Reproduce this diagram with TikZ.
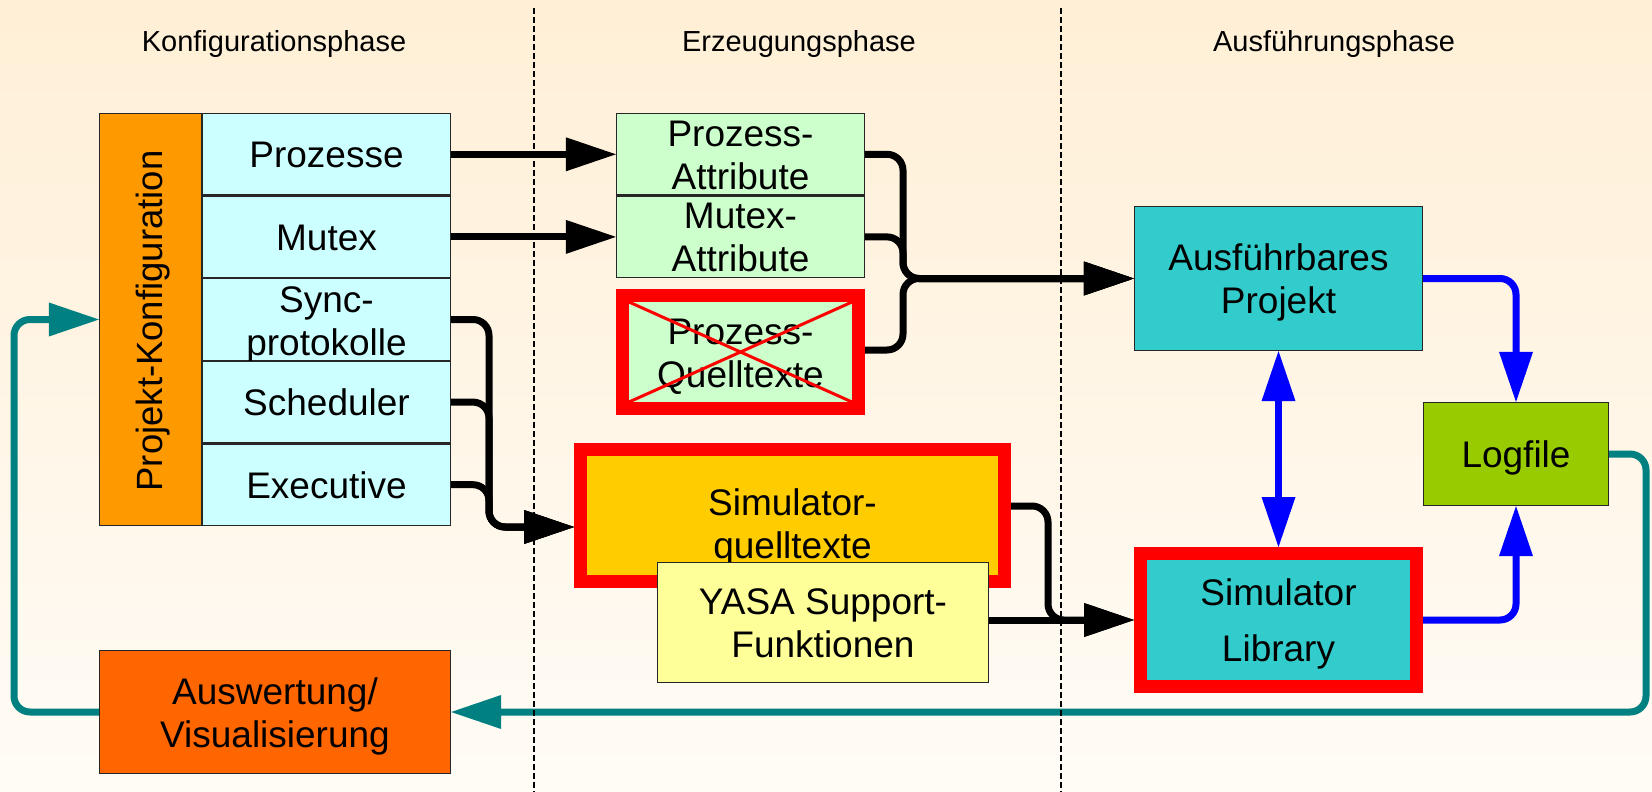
\documentclass[tikz,border=0pt]{standalone}
\usepackage{fontspec}
\setmainfont{Liberation Sans}
\usetikzlibrary{arrows.meta,calc}

\definecolor{bgtop}{RGB}{255,239,214}
\definecolor{bgbot}{RGB}{255,252,246}
\definecolor{cellcyan}{HTML}{CCFFFF}
\definecolor{barorange}{HTML}{FF9900}
\definecolor{attrgreen}{HTML}{CCFFCC}
\definecolor{exeteal}{HTML}{33CCCC}
\definecolor{loggreen}{HTML}{99CC00}
\definecolor{evalorange}{HTML}{FF6600}
\definecolor{srcyellow}{HTML}{FFCC00}
\definecolor{supyellow}{HTML}{FFFF99}
\definecolor{markred}{HTML}{FF0000}
\definecolor{flowblue}{HTML}{0000FF}
\definecolor{loopteal}{HTML}{008080}

\begin{document}
\begin{tikzpicture}[x=1pt,y=-1pt,
  % the text box of a multi-line node has its baseline at the last line,
  % so text height = twice the offset of that baseline below the centre
  boxtext/.style={inner sep=0pt, align=center,
    font=\fontsize{37}{43}\selectfont, text height=27pt, text depth=0pt},
  twolines/.style={text height=70pt, text depth=0pt},
  box/.style={boxtext, draw=black!85, line width=1.2pt},
  redbox/.style={boxtext, draw=markred, line width=13pt},
  cell/.style={box, fill=cellcyan, minimum width=248pt, minimum height=81.4pt},
  attr/.style={box, twolines, fill=attrgreen, minimum width=248pt, minimum height=81.4pt},
  phase/.style={font=\fontsize{29}{34}\selectfont, anchor=base},
  conn/.style={line width=7pt, rounded corners=16pt},
  arrowend/.style={-{Triangle[length=50pt,width=34pt,line width=0pt]}},
  arrowboth/.style={{Triangle[length=50pt,width=34pt,line width=0pt]}-{Triangle[length=50pt,width=34pt,line width=0pt]}},
  divider/.style={line width=1.2pt, dash pattern=on 6pt off 3pt}
]
% background
\shade[top color=bgtop, bottom color=bgbot] (0,0) rectangle (1652,792);
\useasboundingbox (0,0) rectangle (1652,792);

% phase titles
\node[phase] (ph1) at (274,52) {Konfigurationsphase};
\node[phase] (ph2) at (799,52) {Erzeugungsphase};
\node[phase] (ph3) at (1334,52) {Ausführungsphase};

% project configuration column
\node[box, fill=barorange, minimum width=102pt, minimum height=412pt] (proj) at (150.5,319.5) {};
\node[rotate=90, anchor=base, font=\fontsize{36.5}{40}\selectfont] (projlabel) at (162,321) {Projekt-Konfiguration};
\node[cell] (proz)  at (326.5,154.3) {Prozesse};
\node[cell] (mutex) at (326.5,236.9) {Mutex};
\node[cell, text height=71pt] (sync)  at (326.5,319.5) {Sync-\\protokolle};
\node[cell] (sched) at (326.5,402.1) {Scheduler};
\node[cell] (exec)  at (326.5,484.7) {Executive};

% evaluation
\node[box, twolines, fill=evalorange, minimum width=351pt, minimum height=123pt] (ausw) at (275,712) {Auswertung/\\Visualisierung};

% generated artefacts
\node[attr] (pattr) at (740.5,154.3) {Prozess-\\Attribute};
\node[attr] (mattr) at (740.5,236.9) {Mutex-\\Attribute};
\node[redbox, twolines, fill=attrgreen, minimum width=236pt, minimum height=113pt] (qt) at (740.5,352) {Prozess-\\Quelltexte};
\draw[markred, line width=3pt]
  ($(qt.north west)+(13,13)$) -- ($(qt.south east)+(-13,-13)$)
  ($(qt.south west)+(13,-13)$) -- ($(qt.north east)+(-13,13)$);

\node[redbox, fill=srcyellow, minimum width=424pt, minimum height=132pt, text height=86pt] (simq) at (792.5,515.5) {Simulator-\\quelltexte};
\node[box, twolines, fill=supyellow, minimum width=331pt, minimum height=120pt] (yasa) at (823,622.5) {YASA Support-\\Funktionen};

% execution phase
\node[box, twolines, fill=exeteal, minimum width=288pt, minimum height=144pt] (ausf) at (1278.5,278.5) {Ausführbares\\Projekt};
\node[redbox, fill=exeteal, minimum width=276pt, minimum height=133pt, text height=83pt] (lib) at (1278.5,620) {Simulator\\[13pt]Library};
\node[box, fill=loggreen, minimum width=185pt, minimum height=103pt] (log) at (1516,454) {Logfile};

% configuration -> attributes
\draw[conn, arrowend] (proz.east) -- (pattr.west);
\draw[conn, arrowend] (mutex.east) -- (mattr.west);

% sync / scheduler / executive -> simulator sources
\coordinate (sx) at (489,0);
\coordinate (sin) at ($(simq.west)+(0,11.5)$);
\coordinate (sc) at (sin -| sx);
\draw[conn, arrowend] (sync.east) -| (sc) -- (sin);
\draw[conn, arrowend] (sched.east) -| (sc) -- (sin);
\draw[conn, arrowend] (exec.east) -| (sc) -- (sin);

% attributes and sources -> executable project
\coordinate (ax) at (903,0);
\coordinate (ac) at (ausf.west -| ax);
\draw[conn, arrowend] (pattr.east) -| (ac) -- (ausf.west);
\draw[conn, arrowend] (mattr.east) -| (ac) -- (ausf.west);
\draw[conn, arrowend] ($(qt.east)+(0,-2)$) -| (ac) -- (ausf.west);

% simulator sources and support functions -> library
\coordinate (qx) at (1048,0);
\coordinate (qc) at (lib.west -| qx);
\draw[conn, arrowend] ($(simq.east)+(0,-9.5)$) -| (qc) -- (lib.west);
\draw[conn, arrowend] (yasa.east |- lib.west) -- (lib.west);

% execution flow
\draw[conn, flowblue, arrowend] (ausf.east) -| (log.north);
\draw[conn, flowblue, arrowend] (lib.east) -| (log.south);
\draw[conn, flowblue, arrowboth] (ausf.south) -- (lib.north);

% feedback loop
\coordinate (rx) at (1646,0);
\coordinate (rc) at (ausw.east -| rx);
\draw[conn, loopteal, arrowend] (log.east) -| (rc) -- (ausw.east);
\coordinate (lx) at (14,0);
\coordinate (lc) at (proj.west -| lx);
\draw[conn, loopteal, arrowend] (ausw.west) -| (lc) -- (proj.west);

% phase dividers
\draw[divider] (534,8) -- (534,792);
\draw[divider] (1061,8) -- (1061,792);
\end{tikzpicture}
\end{document}
